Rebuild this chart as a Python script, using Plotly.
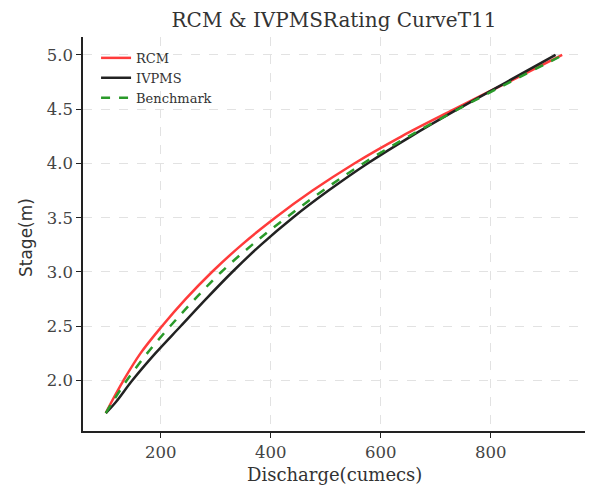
import plotly.graph_objects as go

stage = [1.7, 1.8, 2.0, 2.25, 2.5, 2.75, 3.0, 3.25, 3.5, 3.75, 4.0, 4.25, 4.5, 4.75, 5.0]
rcm_q = [100, 110, 132, 163, 202, 245, 293, 347, 408, 476, 552, 638, 734, 832, 930]
ivpms_q = [100, 118, 148, 190, 236, 282, 330, 382, 440, 505, 576, 655, 740, 829, 918]
bench_q = [100, 112, 138, 175, 217, 262, 310, 366, 428, 495, 568, 651, 741, 835, 932]

x_ticks = [200, 400, 600, 800]
y_ticks = [2.0, 2.5, 3.0, 3.5, 4.0, 4.5, 5.0]

SERIF = "DejaVu Serif"
fig = go.Figure()
fig.add_trace(go.Scatter(x=rcm_q, y=stage, mode="lines", name="RCM",
                         line=dict(color="#ff3b3b", width=2.5, shape="spline")))
fig.add_trace(go.Scatter(x=ivpms_q, y=stage, mode="lines", name="IVPMS",
                         line=dict(color="#222222", width=2.5, shape="spline")))
fig.add_trace(go.Scatter(x=bench_q, y=stage, mode="lines", name="Benchmark",
                         line=dict(color="#2a9a2a", width=2.5, dash="dash", shape="spline")))

fig.update_layout(
    width=589, height=486,
    margin=dict(l=83, r=4, t=37, b=55),
    paper_bgcolor="white", plot_bgcolor="white",
    font=dict(family=SERIF, color="#333333", size=15),
    title=dict(text="RCM & IVPMSRating CurveT11", x=0.5, xref="paper",
               y=1 - 20 / 486, yref="container", xanchor="center", yanchor="middle",
               font=dict(family=SERIF, size=20, color="#333333")),
    showlegend=True,
    legend=dict(x=0.026, y=0.985, xanchor="left", yanchor="top",
                bgcolor="rgba(0,0,0,0)", borderwidth=0,
                font=dict(family=SERIF, size=13, color="#333333"),
                tracegroupgap=0),
    xaxis=dict(range=[58.5, 971.5], tickvals=x_ticks, ticktext=[str(v) for v in x_ticks],
               showline=True, linecolor="#222222", linewidth=1.5, mirror=False,
               ticks="outside", ticklen=5, tickwidth=1.2, tickcolor="#222222",
               showgrid=True, gridcolor="#e2e2e2", griddash="dash", gridwidth=0.8,
               zeroline=False, tickfont=dict(family=SERIF, size=16.5, color="#444444")),
    yaxis=dict(range=[1.535, 5.165], tickvals=y_ticks, ticktext=[f"{v:.1f}" for v in y_ticks],
               showline=True, linecolor="#222222", linewidth=1.5, mirror=False,
               ticks="outside", ticklen=5, tickwidth=1.2, tickcolor="#222222",
               showgrid=True, gridcolor="#e2e2e2", griddash="dash", gridwidth=0.8,
               zeroline=False, tickfont=dict(family=SERIF, size=16.5, color="#444444")),
    annotations=[
        dict(text="Discharge(cumecs)", xref="paper", yref="paper", x=0.5, y=-(474 - 431) / 394,
             xanchor="center", yanchor="middle", showarrow=False,
             font=dict(family=SERIF, size=18, color="#333333")),
        dict(text="Stage(m)", xref="paper", yref="paper", x=-(83 - 26) / 502, y=(431 - 238) / 394,
             xanchor="center", yanchor="middle", showarrow=False, textangle=-90,
             font=dict(family="DejaVu Sans", size=17, color="#333333")),
    ],
)

fig.write_html("out.html")
